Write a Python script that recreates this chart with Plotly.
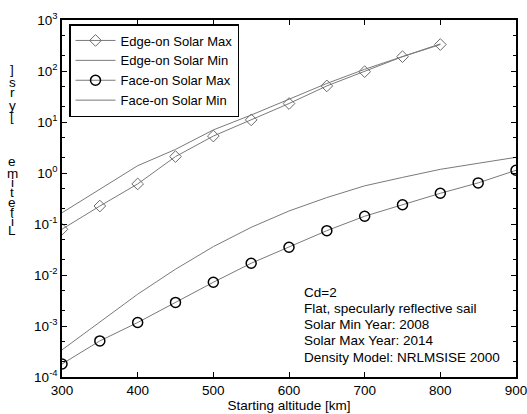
import plotly.graph_objects as go

altitude_edge = [300, 350, 400, 450, 500, 550, 600, 650, 700, 750, 800]
edge_max = [0.079, 0.225, 0.61, 2.1, 5.3, 11, 23, 51, 97, 191, 330]
edge_min = [0.166, 0.48, 1.39, 2.9, 7.0, 13.7, 27.6, 57, 108, 195, 340]

altitude_face = [300, 350, 400, 450, 500, 550, 600, 650, 700, 750, 800, 850, 900]
face_max = [1.8e-4, 5.1e-4, 1.17e-3, 2.9e-3, 7.2e-3, 0.017, 0.035, 0.074, 0.142, 0.239, 0.40, 0.64, 1.13]
face_min = [3.4e-4, 1.2e-3, 4.2e-3, 0.013, 0.036, 0.086, 0.18, 0.33, 0.56, 0.82, 1.18, 1.55, 2.03]

x_ticks = [300, 400, 500, 600, 700, 800, 900]
y_ticks = [1e-4, 1e-3, 1e-2, 1e-1, 1e0, 1e1, 1e2, 1e3]
y_ticktext = ["10<sup>-4</sup>", "10<sup>-3</sup>", "10<sup>-2</sup>", "10<sup>-1</sup>",
              "10<sup>0</sup>", "10<sup>1</sup>", "10<sup>2</sup>", "10<sup>3</sup>"]
notes = ["Cd=2", "Flat, specularly reflective sail", "Solar Min Year: 2008",
         "Solar Max Year: 2014", "Density Model: NRLMSISE 2000"]
ylabel_chars = ["]", "s", "r", "y", "[", "e", "m", "i", "t", "e", "f", "i", "L"]

FONT = "Liberation Sans, Arial, Helvetica, sans-serif"
FS = 13.5
LINE = "#7a7a7a"

fig = go.Figure()
fig.add_trace(go.Scatter(x=altitude_edge, y=edge_max, name="Edge-on Solar Max", mode="lines+markers",
                         line=dict(color=LINE, width=1),
                         marker=dict(symbol="diamond-open", size=9, color="#6a6a6a", line=dict(width=1))))
fig.add_trace(go.Scatter(x=altitude_edge, y=edge_min, name="Edge-on Solar Min", mode="lines",
                         line=dict(color=LINE, width=1)))
fig.add_trace(go.Scatter(x=altitude_face, y=face_max, name="Face-on Solar Max", mode="lines+markers",
                         line=dict(color=LINE, width=1),
                         marker=dict(symbol="circle-open", size=10, color="black", line=dict(width=1.5))))
fig.add_trace(go.Scatter(x=altitude_face, y=face_min, name="Face-on Solar Min", mode="lines",
                         line=dict(color=LINE, width=1)))

W, H = 527, 414
L, R, T, B = 62, 11, 20, 37
pw, ph = W - L - R, H - T - B

annotations = []
for i, t in enumerate(notes):
    ypx = 292 + i * 16.3
    annotations.append(dict(text=t, xref="paper", yref="paper", x=(302 - L) / pw, y=1 - (ypx - T) / ph,
                            xanchor="left", yanchor="middle", showarrow=False,
                            font=dict(size=FS, color="black", family=FONT)))
ypos = [70, 82, 93, 105, 117, 162, 173, 183, 192, 202, 212, 221, 230]
for ch, ypx in zip(ylabel_chars, ypos):
    annotations.append(dict(text=ch, xref="paper", yref="paper", x=(12 - L) / pw, y=1 - (ypx - T) / ph,
                            xanchor="center", yanchor="middle", showarrow=False,
                            font=dict(size=FS, color="black", family=FONT)))

fig.update_layout(
    width=W, height=H,
    margin=dict(l=L, r=R, t=T, b=B, autoexpand=False),
    paper_bgcolor="white", plot_bgcolor="white",
    font=dict(family=FONT, size=FS, color="black"),
    showlegend=True,
    legend=dict(x=(69 - L) / pw, y=1 - (24 - T) / ph, xanchor="left", yanchor="top",
                bordercolor="black", borderwidth=1.5, bgcolor="white",
                font=dict(size=13, family=FONT), tracegroupgap=0, itemwidth=40),
    annotations=annotations,
    xaxis=dict(range=[300, 900], tickvals=x_ticks, ticks="inside", ticklen=5, tickcolor="black",
               showline=True, linecolor="black", linewidth=1.5, mirror="allticks",
               showgrid=False, zeroline=False, automargin=False, ticklabeloverflow="allow",
               title=dict(text="Starting altitude [km]", standoff=3, font=dict(size=FS))),
    yaxis=dict(type="log", range=[-4, 3], tickvals=y_ticks, ticktext=y_ticktext,
               ticks="inside", ticklen=5, tickcolor="black",
               minor=dict(ticks="inside", ticklen=3, tickcolor="black", showgrid=False),
               showline=True, linecolor="black", linewidth=1.5, mirror="allticks",
               showgrid=False, zeroline=False, automargin=False, ticklabeloverflow="allow"),
)

fig.write_html("out.html", config={"displayModeBar": False})

with open("out.html", "r", encoding="utf-8") as f:
    html = f.read()
html = html.replace("<body>", '<body style="margin:0;padding:0;overflow:hidden">', 1)
with open("out.html", "w", encoding="utf-8") as f:
    f.write(html)
